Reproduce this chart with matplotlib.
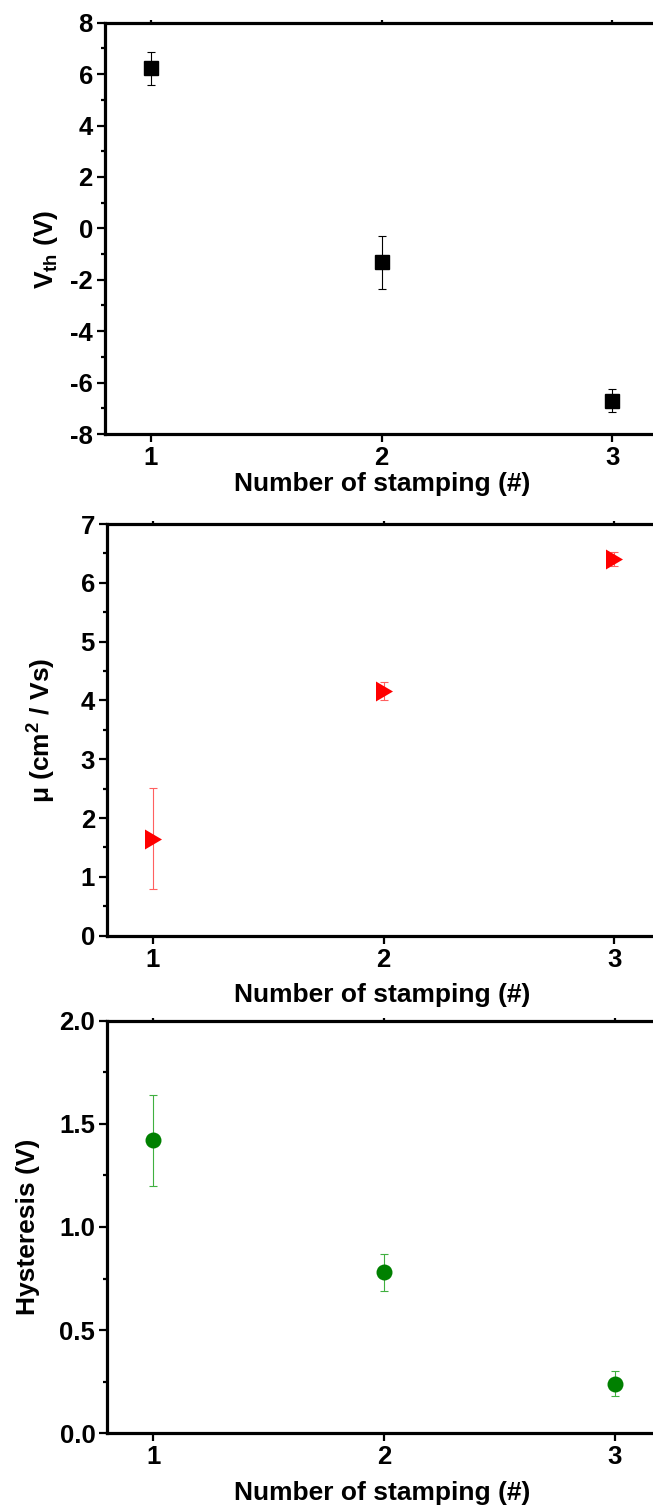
import numpy as np
import matplotlib
matplotlib.use('Agg')
import matplotlib.pyplot as plt
from matplotlib.ticker import MultipleLocator, FormatStrFormatter

plt.rcParams['font.family'] = ['Liberation Sans', 'DejaVu Sans']
plt.rcParams['font.weight'] = 'bold'
plt.rcParams['axes.unicode_minus'] = False
plt.rcParams['mathtext.default'] = 'regular'

stamping = [1, 2, 3]

vth = [6.22, -1.32, -6.70]
vth_err = [0.65, 1.04, 0.45]

mobility = [1.65, 4.16, 6.41]
mobility_err = [0.86, 0.15, 0.12]

hysteresis = [1.42, 0.78, 0.24]
hysteresis_err = [0.22, 0.09, 0.06]

# right-pointing triangle a little taller than wide, like the original
tri = [(-0.85, 1.0), (0.85, 0.0), (-0.85, -1.0), (-0.85, 1.0)]

W, H = 653.0, 1511.0
fig = plt.figure(figsize=(W / 100, H / 100), dpi=100)

unit = 230.7 / W          # one x unit in figure fraction
xmin, xmax = 0.8, 3.6
w = (xmax - xmin) * unit

panels = [
    # tick "1" x (px), top spine y, bottom spine y, ylabel right x, ylabel centre y, xlabel top y
    (150.8, 22.7, 434.0, 60, 249, 472),
    (152.9, 524.0, 935.7, 58, 730, 983),
    (153.3, 1020.7, 1433.3, 40, 1227, 1481),
]

axes = []
for x1, top, bot, lx, ly, xy in panels:
    left = (x1 - (1 - xmin) * 230.7) / W
    ax = fig.add_axes([left, 1 - bot / H, w, (bot - top) / H])
    ax.set_xlim(xmin, xmax)
    for s in ax.spines.values():
        s.set_linewidth(2.3)
    ax.set_xticks(stamping)
    ax.tick_params(axis='both', which='major', direction='out', length=5.5,
                   width=1.6, labelsize=18.5, pad=3)
    ax.tick_params(axis='y', which='minor', direction='out', length=3, width=1.6)
    ax.tick_params(axis='x', top=True, which='major')
    for tk in ax.xaxis.get_major_ticks():
        tk.tick2line.set_markersize(2)
    ax.set_xlabel('Number of stamping (#)', fontsize=19, fontweight='bold')
    axes.append(ax)

ax1, ax2, ax3 = axes

ax1.errorbar(stamping, vth, yerr=vth_err, fmt='s', color='black', ms=9.8,
             ecolor='black', elinewidth=0.8, capsize=3, capthick=0.8)
ax1.set_ylim(-8, 8)
ax1.yaxis.set_major_locator(MultipleLocator(2))
ax1.yaxis.set_minor_locator(MultipleLocator(1))
ax1.set_ylabel('V$_{th}$ (V)', fontsize=19, fontweight='bold')

ax2.errorbar(stamping, mobility, yerr=mobility_err, fmt='none',
             ecolor='#ff6060', elinewidth=0.8, capsize=3, capthick=0.8)
ax2.plot(stamping, mobility, linestyle='none', marker=tri, ms=14.4,
         color='#ff0000', markeredgewidth=0)
ax2.set_ylim(0, 7)
ax2.yaxis.set_major_locator(MultipleLocator(1))
ax2.yaxis.set_minor_locator(MultipleLocator(0.5))
ax2.set_ylabel('μ (cm$^{2}$ / Vs)', fontsize=19, fontweight='bold')

ax3.errorbar(stamping, hysteresis, yerr=hysteresis_err, fmt='none',
             ecolor='#40b040', elinewidth=0.8, capsize=3, capthick=0.8)
ax3.plot(stamping, hysteresis, linestyle='none', marker='o', ms=11.5,
         color='#008000', markeredgewidth=0)
ax3.set_ylim(0, 2)
ax3.yaxis.set_major_locator(MultipleLocator(0.5))
ax3.yaxis.set_minor_locator(MultipleLocator(0.25))
ax3.yaxis.set_major_formatter(FormatStrFormatter('%.1f'))
ax3.set_ylabel('Hysteresis (V)', fontsize=19, fontweight='bold')

# label placement in figure pixels (after set_*label, which resets it)
for ax, p in zip(axes, panels):
    ax.xaxis.set_label_coords(382 / W, 1 - p[5] / H, transform=fig.transFigure)
    ax.yaxis.set_label_coords(p[3] / W, 1 - p[4] / H, transform=fig.transFigure)

fig.savefig('out.png', dpi=100)
